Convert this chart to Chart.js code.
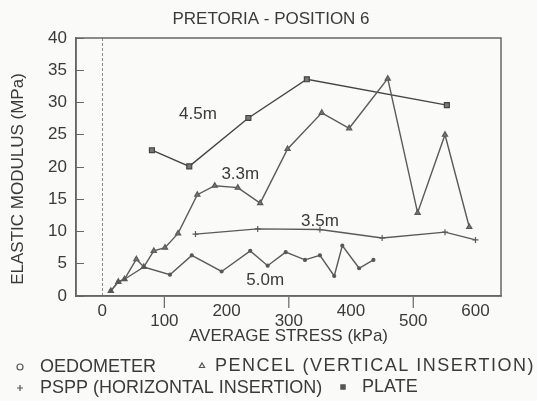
<!DOCTYPE html>
<html>
<head>
<meta charset="utf-8">
<script src="https://cdn.jsdelivr.net/npm/chart.js@4.4.1/dist/chart.umd.min.js"></script>
<style>
    html, body { margin: 0; padding: 0; background: #fafaf8; }
</style>
</head>
<body>
<canvas id="grafico-pretoria" width="537" height="401"></canvas>
<script>
// Dados (tensão média em kPa, módulo elástico em MPa)
const tensaoOedometro = [14, 26, 36, 67, 109, 144, 192, 238, 266, 295, 326, 350, 373, 386, 413, 436];
const moduloOedometro = [0.8, 2.2, 2.6, 4.5, 3.3, 6.3, 3.8, 7.0, 4.7, 6.8, 5.6, 6.3, 3.1, 7.8, 4.3, 5.6];

const tensaoPencel = [14, 26, 36, 55, 67, 83, 101, 122, 153, 181, 218, 254, 298, 353, 397, 459, 507, 551, 590];
const moduloPencel = [0.8, 2.2, 2.6, 5.7, 4.5, 7.0, 7.5, 9.7, 15.7, 17.1, 16.8, 14.4, 22.8, 28.4, 26.0, 33.7, 12.9, 25.0, 10.7];

const tensaoPspp = [150, 250, 350, 450, 551, 600];
const moduloPspp = [9.6, 10.4, 10.3, 9.0, 9.9, 8.7];

const tensaoPlaca = [80, 140, 235, 329, 554];
const moduloPlaca = [22.6, 20.1, 27.6, 33.6, 29.6];

const ticksX = [0, 100, 200, 300, 400, 500, 600];
const ticksY = [0, 5, 10, 15, 20, 25, 30, 35, 40];

// Rótulos das profundidades ao lado das curvas
const rotulosCurvas = ['4.5m', '3.3m', '3.5m', '5.0m'];
const tensaoRotulos = [154, 222, 350, 262];
const moduloRotulos = [28.2, 18.8, 11.6, 2.5];

const nomesSeries = ['OEDOMETER', 'PENCEL (VERTICAL INSERTION)', 'PSPP (HORIZONTAL INSERTION)', 'PLATE'];

const fonte = "'Liberation Sans', Arial, sans-serif";
const corTexto = '#3a3a3a';
const corLinha = '#5a5a5a';

const pontos = (xs, ys) => xs.map((x, i) => ({ x: x, y: ys[i] }));

// Título, moldura, rótulos do eixo x (alternados), rótulos das curvas e legenda
const extras = {
    id: 'extras',
    afterDraw(chart) {
        const ctx = chart.ctx;
        const area = chart.chartArea;
        const escalaX = chart.scales.x;
        const escalaY = chart.scales.y;

        ctx.save();
        ctx.strokeStyle = '#666';
        ctx.lineWidth = 1.5;
        ctx.strokeRect(area.left, area.top, area.right - area.left, area.bottom - area.top);

        ctx.fillStyle = corTexto;
        ctx.font = '17px ' + fonte;
        ctx.textAlign = 'center';
        ctx.textBaseline = 'middle';
        ctx.fillText('PRETORIA - POSITION 6', 271, 19);

        // rótulos alternados: os de índice ímpar ficam mais abaixo, com traço
        ctx.lineWidth = 1.2;
        ticksX.forEach((v, i) => {
            const px = escalaX.getPixelForValue(v);
            const baixo = i % 2 === 1;
            if (baixo) {
                ctx.beginPath();
                ctx.moveTo(px, area.bottom + 1);
                ctx.lineTo(px, area.bottom + 12);
                ctx.stroke();
            }
            ctx.fillText(String(v), px, area.bottom + (baixo ? 25 : 15));
        });

        rotulosCurvas.forEach((texto, i) => {
            ctx.fillText(texto, escalaX.getPixelForValue(tensaoRotulos[i]), escalaY.getPixelForValue(moduloRotulos[i]));
        });

        // título do eixo y
        ctx.save();
        ctx.translate(18, 179);
        ctx.rotate(-Math.PI / 2);
        ctx.fillText('ELASTIC MODULUS (MPa)', 0, 0);
        ctx.restore();

        // legenda em duas linhas, como no original
        const posLegenda = [
            { mx: 20, tx: 40, y: 367, esp: '0px' },
            { mx: 202, tx: 215, y: 366, esp: '1.5px' },
            { mx: 20, tx: 40, y: 388, esp: '0px' },
            { mx: 343, tx: 362, y: 387, esp: '0px' }
        ];
        ctx.textAlign = 'left';
        ctx.font = '18px ' + fonte;
        chart.data.datasets.forEach((ds, i) => {
            const p = posLegenda[i];
            ctx.strokeStyle = '#555';
            ctx.fillStyle = ds.pointStyle === 'rect' ? '#555' : '#fafaf8';
            Chart.helpers.drawPoint(ctx, { pointStyle: ds.pointStyle, radius: 3, rotation: 0, borderWidth: 1.2 }, p.mx, p.y);
            ctx.fillStyle = corTexto;
            ctx.letterSpacing = p.esp;
            ctx.fillText(nomesSeries[i], p.tx, p.y);
        });
        ctx.letterSpacing = '0px';
        ctx.restore();
    }
};

const graficoPretoria = document.getElementById('grafico-pretoria').getContext('2d');
const chart = new Chart(graficoPretoria, {
    type: 'scatter',
    data: {
        datasets: [{
            label: nomesSeries[0],
            data: pontos(tensaoOedometro, moduloOedometro),
            pointStyle: 'circle',
            pointRadius: 1.5,
            backgroundColor: '#555',
            borderColor: corLinha
        }, {
            label: nomesSeries[1],
            data: pontos(tensaoPencel, moduloPencel),
            pointStyle: 'triangle',
            pointRadius: 3,
            backgroundColor: '#777',
            borderColor: corLinha
        }, {
            label: nomesSeries[2],
            data: pontos(tensaoPspp, moduloPspp),
            pointStyle: 'cross',
            pointRadius: 3,
            backgroundColor: '#555',
            borderColor: corLinha
        }, {
            label: nomesSeries[3],
            data: pontos(tensaoPlaca, moduloPlaca),
            pointStyle: 'rect',
            pointRadius: 3.5,
            backgroundColor: '#777',
            borderColor: '#444'
        }]
    },
    options: {
        responsive: false,
        animation: false,
        showLine: true,
        elements: {
            line: { borderWidth: 1.4, tension: 0 },
            point: { borderWidth: 1.2 }
        },
        layout: { padding: { left: 0, right: 36, top: 38, bottom: 50 } },
        plugins: {
            legend: { display: false },
            tooltip: { enabled: false },
            title: { display: false }
        },
        scales: {
            x: {
                type: 'linear',
                min: -42,
                max: 641,
                afterBuildTicks: escala => { escala.ticks = ticksX.map(v => ({ value: v })); },
                afterFit: escala => { escala.height = 55; },
                ticks: { display: false },
                grid: {
                    drawOnChartArea: true,
                    drawTicks: false,
                    lineWidth: 1,
                    color: c => (c.index === 0 ? '#8a8a8a' : 'transparent')
                },
                border: { display: true, color: '#666', width: 1.5, dash: [3, 2] },
                title: {
                    display: true,
                    text: 'AVERAGE STRESS (kPa)',
                    color: corTexto,
                    font: { family: fonte, size: 17 },
                    padding: { top: 0, bottom: 4 }
                }
            },
            y: {
                min: 0,
                max: 40,
                afterBuildTicks: escala => { escala.ticks = ticksY.map(v => ({ value: v })); },
                afterFit: escala => { escala.width = 76; },
                ticks: {
                    color: corTexto,
                    padding: 17,
                    font: { family: fonte, size: 17 }
                },
                grid: {
                    drawOnChartArea: false,
                    tickLength: -8,
                    tickColor: '#666'
                },
                border: { display: true, color: '#666', width: 1.5 },
                title: { display: false }
            }
        }
    },
    plugins: [extras]
});
</script>
</body>
</html>
